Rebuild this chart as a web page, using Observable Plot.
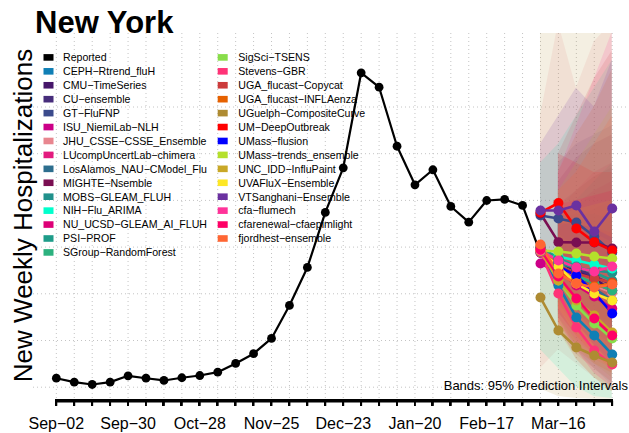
<!DOCTYPE html>
<html><head><meta charset="utf-8">
<script src="https://cdn.jsdelivr.net/npm/d3@7"></script>
<script src="https://cdn.jsdelivr.net/npm/@observablehq/plot@0.6"></script>
<style>
html,body{margin:0;padding:0;background:#fff;overflow:hidden;}
#chart{position:relative;width:629px;height:433px;}
#chart svg{display:block;}
.axbar{position:absolute;background:#000;}
</style></head><body><div id="chart"></div>
<script>
const FONT = "'Liberation Sans', Arial, Helvetica, sans-serif";
const stateName = "New York";
const yTitle = "New Weekly Hospitalizations";
const bandNote = "Bands: 95% Prediction Intervals";

// weekly reported hospitalizations, weeks starting Sep-02 (Saturdays)
const reported = [596,554,529,554,622,596,572,601,625,661,754,859,1022,1375,1782,2371,2849,3866,3712,3080,2667,2828,2435,2267,2499,2510,2446,1933];
const xTickLabels = ["Sep−02","Sep−30","Oct−28","Nov−25","Dec−23","Jan−20","Feb−17","Mar−16"];
const yGrid = [500,1000,1500,2000,2500,3000,3500];

const models = ["CEPH−Rtrend_fluH","CMU−TimeSeries","CU−ensemble","GT−FluFNP","ISU_NiemiLab−NLH","JHU_CSSE−CSSE_Ensemble","LUcompUncertLab−chimera","LosAlamos_NAU−CModel_Flu","MIGHTE−Nsemble","MOBS−GLEAM_FLUH","NIH−Flu_ARIMA","NU_UCSD−GLEAM_AI_FLUH","PSI−PROF","SGroup−RandomForest","SigSci−TSENS","Stevens−GBR","UGA_flucast−Copycat","UGA_flucast−INFLAenza","UGuelph−CompositeCurve","UM−DeepOutbreak","UMass−flusion","UMass−trends_ensemble","UNC_IDD−InfluPaint","UVAFluX−Ensemble","VTSanghani−Ensemble","cfa−flumech","cfarenewal−cfaepimlight","fjordhest−ensemble"];
const modelColors = ["#0F7FB5","#46166A","#472D7B","#3B4B8C","#CC0088","#E8868F","#E31A7E","#2D6E8E","#7A0E52","#21918C","#00FFCC","#DD0077","#1E9C89","#2CB17E","#88DD4A","#FF3377","#CC3B3B","#E66100","#AE8B32","#FF0000","#0000FF","#B5E02B","#C9A827","#FDE725","#6A31A0","#FF3399","#FF0066","#FF6633"];

// forecast medians, horizons Mar-09 .. Apr-06
const fcMid = [
[1942,1589,1246,1054,850],[1964,1835,1749,1664,1535],[1985,1878,1771,1685,1600],[2338,2306,2263,2113,1942],
[1824,1728,1621,1535,1428],[1964,1803,1696,1589,1514],[1942,1771,1642,1610,1535],[1996,1835,1685,1557,1428],
[2360,2053,2049,2049,1985],[1985,1835,1771,1749,1728],[1964,1899,1857,1814,1771],[1974,1749,1589,1471,1342],
[1996,1878,1792,1728,1642],[1953,1824,1696,1610,1535],[1964,1642,1375,1182,1021],[1942,1503,1139,893,743],
[1985,1803,1717,1664,1621],[2017,1717,1642,1578,1610],[1460,1107,925,839,764],[2370,2472,2199,2053,1964],
[1953,1792,1696,1514,1289],[1964,1953,1931,1899,1878],[1953,1642,1428,1268,1086],[1964,1792,1610,1503,1428],
[2392,2392,2445,2167,2413],[1964,1857,1782,1739,1792],[1974,1685,1450,1235,1054],[2028,1717,1610,1567,1600]];
// 95% interval lower bounds
const fcLo = [
[null,1250,900,700,520],[null,1550,1350,1150,1000],[null,1500,1300,1100,950],[null,1850,1600,1350,1100],
[null,1300,1050,850,700],[700,900,750,600,500],[null,1350,1100,950,800],[null,1450,1200,1000,850],
[null,1600,1450,1300,1150],[null,1500,1300,1150,1000],[900,700,500,400,380],[null,1300,1050,850,700],
[null,1500,1300,1150,1000],[null,1400,1150,1000,850],[null,1250,950,750,600],[null,1150,800,600,450],
[null,1100,850,700,550],[null,1150,900,750,650],[480,400,380,370,370],[null,2000,1700,1500,1350],
[null,1450,1200,950,750],[null,1450,1200,1000,850],[null,1100,800,600,450],[null,1350,1050,850,700],
[2000,1850,1750,1500,1450],[null,1250,1000,850,750],[null,1200,900,650,500],[null,1200,950,800,700]];
// 95% interval upper bounds
const fcHi = [
[null,2050,1900,1800,1750],[null,2200,2300,2400,2500],[null,2450,2600,2750,2850],[null,2900,3100,3200,3300],
[null,2300,2450,2600,2700],[3400,4400,3700,4200,4400],[null,2400,2600,2800,2900],[null,2300,2350,2350,2300],
[null,2700,2950,3100,3200],[null,2300,2500,2700,2900],[2900,3100,3400,3700,4000],[null,2300,2250,2200,2150],
[null,2350,2450,2550,2600],[null,2350,2400,2450,2500],[null,2150,2000,1900,1800],[null,2000,1750,1550,1400],
[null,3000,3400,3800,4100],[null,2800,3200,3500,3900],[5000,5000,5000,5000,5000],[null,3000,2900,2800,2800],
[null,2250,2250,2200,2100],[null,2600,2900,3200,3500],[null,2350,2250,2150,2050],[null,2350,2400,2450,2500],
[3100,3400,3700,3500,4000],[null,2800,3300,3800,4300],[null,2450,2500,2550,2600],[null,2600,2800,3100,3400]];

const weeks = d3.utcSaturday.range(new Date("2023-09-02T00:00:00Z"), new Date("2024-04-07T00:00:00Z"));
const firstFc = 27;

const repRows = reported.map((v, i) => ({date: weeks[i], value: v}));
const fcRows = [];
models.forEach((m, k) => {
  for (let h = 0; h < 5; h++) {
    fcRows.push({model: m, date: weeks[firstFc + h], mid: fcMid[k][h], lo: fcLo[k][h], hi: fcHi[k][h]});
  }
});
const labelRows = xTickLabels.map((t, i) => ({date: weeks[i * 4], label: t}));

const yDomain = [350, 4287];
const tickBottom = 294; // about 5px below the axis baseline, in data units
const xDomain = [new Date("2023-08-24T02:00:00Z"), new Date("2024-04-12T18:00:00Z")];
const tickRows = weeks.map(d => ({date: d, y1: yDomain[0], y2: tickBottom}));
const axisRows = [{x1: weeks[0], x2: weeks[weeks.length - 1], y: yDomain[0]}];

const plot = Plot.plot({
  width: 629, height: 433,
  marginLeft: 33, marginRight: 0, marginTop: 33, marginBottom: 32.3,
  style: {fontFamily: FONT, fontSize: "16px", background: "white", color: "black", overflow: "visible"},
  x: {type: "utc", domain: xDomain, axis: null},
  y: {domain: yDomain, axis: null},
  color: {domain: models, range: modelColors},
  marks: [
    Plot.ruleX(weeks, {stroke: "#c4c4c4", strokeDasharray: "1,3"}),
    Plot.ruleY(yGrid, {stroke: "#c4c4c4", strokeDasharray: "1,3"}),
    Plot.areaY(fcRows, {x: "date", y1: "lo", y2: "hi", z: "model", fill: "model", fillOpacity: 0.14, clip: true}),
    Plot.line(repRows, {x: "date", y: "value", stroke: "black", strokeWidth: 2.2}),
    Plot.dot(repRows, {x: "date", y: "value", fill: "black", r: 4.4}),
    Plot.line(fcRows, {x: "date", y: "mid", z: "model", stroke: "model", strokeWidth: 2.6}),
    Plot.dot(fcRows, {x: "date", y: "mid", fill: "model", r: 5}),
    Plot.ruleY(axisRows, {x1: "x1", x2: "x2", y: "y", stroke: "black", strokeWidth: 2.6}),
    Plot.ruleX(tickRows, {x: "date", y1: "y1", y2: "y2", stroke: "black", strokeWidth: 1.9}),
    Plot.text(labelRows, {x: "date", text: "label", frameAnchor: "bottom", lineAnchor: "bottom", dy: 27.3, fontSize: 16, fill: "black"})
  ]
});
const chart = document.getElementById("chart");
chart.appendChild(plot);

const svg = d3.select(plot);
svg.append("text").attr("x", 35).attr("y", 32.5).attr("text-anchor", "start").attr("font-family", FONT).attr("font-size", 31)
  .attr("font-weight", "bold").attr("fill", "black").text(stateName);
svg.append("text").attr("transform", "translate(31.5,215.5) rotate(-90)").attr("text-anchor", "middle")
  .attr("font-family", FONT).attr("font-size", 26).attr("fill", "black").text(yTitle);
svg.append("text").attr("x", 628).attr("y", 389.5).attr("text-anchor", "end")
  .attr("font-family", FONT).attr("font-size", 13).attr("fill", "black").text(bandNote);

const legendEntries = [{name: "Reported", color: "black"}].concat(models.map((m, k) => ({name: m, color: modelColors[k]})));
const leg = svg.append("g").attr("text-anchor", "start");
legendEntries.forEach((e, i) => {
  const col = i < 15 ? 0 : 1;
  const row = col === 0 ? i : i - 15;
  const cy = 57.4 + row * 13.93;
  const kx = col === 0 ? 43.5 : 217.7;
  const tx = col === 0 ? 63 : 238.3;
  leg.append("rect").attr("x", kx).attr("y", cy - 3.3).attr("width", 10).attr("height", 6.6).attr("fill", e.color);
  leg.append("text").attr("x", tx).attr("y", cy + 3.8).attr("text-anchor", "start").attr("font-family", FONT).attr("font-size", 10.6)
    .attr("fill", "black").text(e.name);
});

// overlay axis bar and ticks, positioned through Plot's scales
const xs = plot.scale("x"), ys = plot.scale("y");
const ax0 = xs.apply(weeks[0]), ax1 = xs.apply(weeks[weeks.length - 1]), ay = ys.apply(yDomain[0]);
function bar(left, top, w, h) {
  const d = document.createElement("div");
  d.className = "axbar";
  d.style.left = left + "px"; d.style.top = top + "px";
  d.style.width = w + "px"; d.style.height = h + "px";
  chart.appendChild(d);
}
bar(ax0 - 1, ay - 1.3, ax1 - ax0 + 2, 2.6);
weeks.forEach(d => bar(xs.apply(d) - 0.95, ay, 1.9, 5.3));
</script>
</body></html>
